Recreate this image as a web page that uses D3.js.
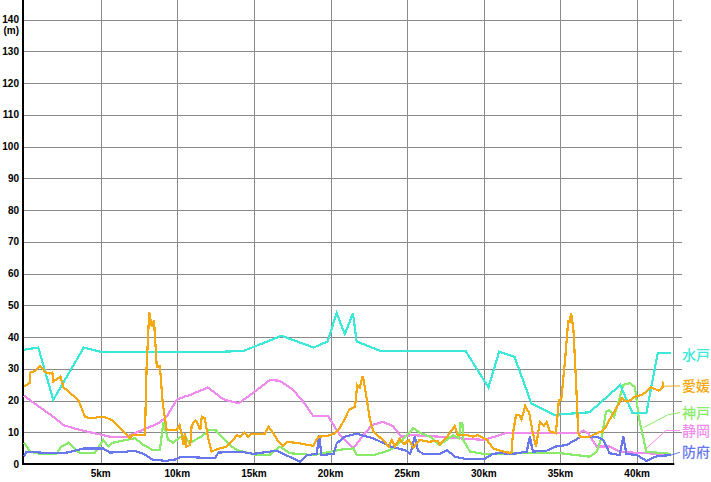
<!DOCTYPE html>
<html>
<head>
<meta charset="utf-8">
<script src="https://cdn.jsdelivr.net/npm/d3@7"></script>
<style>
  body { margin: 0; background: #fff; }
  svg { display: block; }
</style>
</head>
<body>
<div id="chart"></div>
<script>
// course names and colours
const courses = ["静岡", "神戸", "防府", "水戸", "愛媛"];
const colors = {"水戸": "#3ce9d8", "愛媛": "#f4a812", "神戸": "#8aeb6a", "静岡": "#ef8bed", "防府": "#6878ec"};

const yTicks = [0, 10, 20, 30, 40, 50, 60, 70, 80, 90, 100, 110, 120, 130, 140];
const xTicks = [5, 10, 15, 20, 25, 30, 35, 40];

// elevation profiles (km, m)
const kmMito   = [0, 0.93, 1.91, 3.9, 4.95, 13.0, 14.3, 16.8, 18.9, 19.8, 20.4, 20.93, 21.46, 21.7, 23.2, 28.8, 30.3, 31.0, 32.0, 33.1, 34.6, 36.9, 38.9, 39.7, 40.6, 41.35, 42.195];
const elevMito = [36, 36.7, 20.2, 36.7, 35.4, 35.4, 35.6, 40.4, 36.7, 38.6, 47.5, 40.9, 47.5, 38.6, 35.7, 35.7, 24.1, 35.4, 33.8, 19.1, 15.5, 16.3, 24.9, 16, 16, 35.1, 35.1];

const kmEhime   = [0, 0.38, 0.42, 0.72, 1.04, 1.37, 1.65, 1.85, 1.91, 2.39, 2.57, 3.54, 3.98, 4.3, 5.17, 5.72, 6.26, 6.91, 7.0, 7.89, 8.0, 8.17, 8.33, 8.48, 8.66, 8.87, 9.05, 9.31, 9.96, 10.15, 10.3, 10.4, 10.5, 10.6, 10.85, 10.94, 11.2, 11.37, 11.5, 11.6, 11.8, 12.0, 12.24, 12.46, 13.2, 13.65, 13.87, 14.1, 14.4, 14.6, 14.85, 15.7, 15.94, 16.26, 16.6, 16.9, 17.2, 18.0, 18.87, 19.2, 19.74, 20.3, 20.6, 20.9, 21.2, 21.6, 21.74, 21.9, 22.1, 22.3, 22.57, 22.8, 23.4, 23.8, 24.0, 24.2, 24.5, 24.8, 25.1, 25.4, 25.8, 26.4, 27.0, 27.1, 27.6, 28.1, 28.3, 28.9, 29.3, 29.6, 30.2, 30.6, 31.3, 31.8, 31.9, 32.1, 32.3, 32.45, 32.7, 32.96, 33.2, 33.4, 33.66, 33.9, 34.1, 34.3, 34.7, 34.9, 35.05, 35.3, 35.5, 35.6, 35.7, 35.85, 36.0, 36.16, 36.27, 36.9, 37.36, 37.7, 37.97, 38.2, 38.7, 39.0, 39.3, 39.6, 39.86, 40.3, 40.6, 40.9, 41.4, 41.65, 41.7];
const elevEhime = [24.4, 25.6, 28.8, 29.4, 30.9, 29.1, 28.5, 28.8, 26, 27.5, 24.2, 20.2, 14.9, 14.4, 14.9, 13.9, 11.3, 8.1, 9.0, 9.1, 30.7, 48, 43.3, 45.4, 30.7, 30.7, 19.1, 10.7, 10.7, 12.3, 9, 6, 9.7, 5.5, 6, 12.3, 13.7, 12.3, 10.7, 14.9, 14.4, 8.6, 3.9, 4.4, 5.5, 7.6, 9.1, 8.6, 9.9, 8.6, 9.5, 9.5, 11.8, 9.7, 7, 5.7, 7, 6.5, 5.7, 8.6, 8.8, 9.7, 11.3, 14, 17, 18.1, 24.9, 24, 27.8, 22.3, 13.9, 10.2, 7.6, 5.5, 7.6, 5.5, 7.9, 6.2, 7.6, 5.2, 7.6, 7, 7.3, 6.2, 8.6, 12, 9.1, 9.1, 8.6, 9.1, 7.6, 4.9, 3.9, 3.4, 9.7, 15.5, 15.5, 14, 18.3, 16, 9.7, 5.5, 13.3, 12, 13.3, 10.2, 9.7, 20.2, 20.2, 32.8, 44.9, 44.8, 47.5, 42, 27.5, 9.7, 8.6, 8.6, 9.7, 10.2, 11.8, 13.9, 18.1, 20.7, 19.7, 20.2, 21.2, 21.8, 22.8, 24.2, 23.1, 24, 26];

const kmKobe   = [0, 0.4, 1.04, 2.1, 2.45, 2.9, 3.2, 3.65, 4.6, 5.17, 5.5, 5.8, 6.7, 7.24, 7.8, 8.4, 8.87, 9.09, 9.4, 9.74, 10.2, 10.5, 10.8, 11.6, 12.1, 12.5, 13.4, 13.9, 15.2, 16.0, 16.7, 17.35, 18.9, 20.6, 21.5, 21.7, 22.8, 23.9, 24.7, 25.4, 25.9, 26.5, 27.1, 28.0, 28.4, 28.45, 28.6, 28.65, 29.1, 30.0, 33.2, 35.0, 36.9, 37.36, 37.7, 37.97, 38.2, 38.5, 39.1, 39.5, 39.86, 40.1, 40.6, 42.195];
const elevKobe = [6.7, 3.9, 3.2, 3.2, 5.5, 6.7, 5.2, 3.4, 3.4, 7.6, 5.5, 6.7, 7.6, 8.1, 6, 4.4, 4.4, 13.3, 7.6, 6.7, 8.6, 8.8, 6.5, 8.8, 10.7, 10.7, 6, 4.4, 2.8, 2.8, 5.5, 3.4, 2.8, 4.5, 4.9, 2.8, 2.8, 4.4, 7.6, 11.3, 9.7, 8.6, 6, 9.1, 8.1, 13, 13, 7.6, 3.9, 3.2, 3.4, 3.4, 2.3, 3.9, 8.6, 16.5, 17, 14.9, 24.9, 25.5, 24.2, 14.9, 3.9, 3.2];

const kmShizuoka   = [0, 0.83, 1.91, 2.56, 3.2, 4.1, 5.17, 5.6, 6.7, 7.24, 8.0, 8.76, 9.3, 9.96, 10.5, 10.8, 12.0, 13.0, 14.0, 15.2, 16.05, 16.7, 17.57, 18.3, 18.87, 19.85, 20.4, 20.7, 21.48, 21.9, 22.7, 23.44, 24.1, 24.6, 25.3, 27.1, 28.4, 30.0, 31.05, 31.4, 36.2, 36.5, 36.8, 37.36, 38.2, 38.9, 40.2, 42.195];
const elevShizuoka = [21.5, 18.6, 14.9, 12.3, 11.3, 10.2, 9.1, 8.6, 8.6, 9.7, 11.3, 12.8, 14.9, 20.2, 21.3, 21.7, 24.1, 20.4, 19.1, 23.3, 26.5, 26.2, 23.3, 19.1, 15.1, 15, 10.7, 8.6, 4.9, 7.6, 12.3, 13.3, 11.8, 8.6, 9.1, 8.6, 8.1, 7.6, 9.1, 9.7, 9.7, 10.5, 9.7, 5.5, 5.5, 3.9, 3.4, 3.2];

const kmHofu   = [0, 0.17, 1.7, 2.8, 3.87, 5.17, 5.6, 6.7, 7.2, 7.8, 8.4, 9.3, 9.96, 10.2, 12.46, 12.68, 14.1, 14.96, 16.5, 17.1, 18.0, 18.44, 19.1, 19.26, 19.4, 20.2, 20.4, 20.94, 21.7, 22.8, 23.9, 24.96, 25.2, 25.5, 25.7, 26.05, 27.1, 27.6, 28.1, 28.9, 30.0, 30.6, 31.0, 31.9, 32.8, 33.0, 33.2, 34.1, 34.7, 35.4, 36.27, 37.36, 37.8, 38.2, 38.85, 39.1, 39.3, 40.0, 40.6, 41.3, 42.195];
const elevHofu = [2.3, 3.9, 3.4, 3.6, 4.9, 4.9, 3.6, 3.9, 4.2, 3.2, 1.3, 1.0, 1.5, 2.3, 1.8, 3.6, 3.9, 3.2, 4.2, 2.8, 0.7, 2.8, 3.2, 9.1, 2.8, 3.2, 6.5, 8.6, 9.5, 8.1, 5.5, 4.2, 3.2, 8.6, 4.2, 3.2, 3.2, 4.4, 2.3, 1.5, 1.5, 3.2, 3.4, 3.2, 3.9, 8.6, 3.9, 4.2, 5.5, 6, 8.4, 8.6, 7.6, 3.4, 2.8, 8.6, 3.2, 2.8, 1.0, 2.5, 2.8];

// thin leader lines from the profiles to the name labels (km, m)
const leaderKm   = {"愛媛": [41.7], "神戸": [40.4, 42.0], "静岡": [40.5, 41.9], "防府": [42.195]};
const leaderElev = {"愛媛": [24.5], "神戸": [11.4, 15.5], "静岡": [4.5, 10.6], "防府": [2.8]};
const labelElev  = {"水戸": 34.5, "愛媛": 24.6, "神戸": 16.2, "静岡": 10.5, "防府": 3.7};

const series = {
  "水戸": [kmMito, elevMito],
  "愛媛": [kmEhime, elevEhime],
  "神戸": [kmKobe, elevKobe],
  "静岡": [kmShizuoka, elevShizuoka],
  "防府": [kmHofu, elevHofu]
};

const width = 711, height = 482;
const left = 24, right = 673.3, bottom = 464;

const x = d3.scaleLinear().domain([0, 42.36]).range([left, right]);
const y = d3.scaleLinear().domain([0, 146.2]).range([bottom, 0]);
const labelX = 682;
const tickFont = "bold 10px 'Liberation Sans', Arial, sans-serif";

const svg = d3.select("#chart").append("svg")
    .attr("width", width)
    .attr("height", height);

// horizontal grid
svg.append("g")
    .selectAll("line")
    .data(yTicks.slice(1))
    .enter()
    .append("line")
    .attr("x1", left)
    .attr("x2", labelX)
    .attr("y1", d => Math.round(y(d)) + 0.5)
    .attr("y2", d => Math.round(y(d)) + 0.5)
    .attr("stroke", "#8a8a8a")
    .attr("stroke-width", 1);

// vertical grid
svg.append("g")
    .selectAll("line")
    .data(xTicks.concat([x.domain()[1]]))
    .enter()
    .append("line")
    .attr("x1", d => Math.round(x(d)) + 0.5)
    .attr("x2", d => Math.round(x(d)) + 0.5)
    .attr("y1", 0)
    .attr("y2", bottom)
    .attr("stroke", "#8a8a8a")
    .attr("stroke-width", 1);

// y axis labels
svg.append("g")
    .selectAll("text")
    .data(yTicks)
    .enter()
    .append("text")
    .attr("x", 19)
    .attr("y", d => y(d))
    .attr("dy", "0.35em")
    .attr("text-anchor", "end")
    .style("font", tickFont)
    .text(d => d);

svg.append("text")
    .attr("x", 19)
    .attr("y", y(140) + 11)
    .attr("dy", "0.35em")
    .attr("text-anchor", "end")
    .style("font", tickFont)
    .text("(m)");

// x axis labels
svg.append("g")
    .selectAll("text")
    .data(xTicks)
    .enter()
    .append("text")
    .attr("x", d => x(d))
    .attr("y", 473)
    .attr("dy", "0.35em")
    .attr("text-anchor", "middle")
    .style("font", tickFont)
    .text(d => d + "km");

// axes
svg.append("line")
    .attr("x1", left - 1).attr("x2", left - 1)
    .attr("y1", 0).attr("y2", bottom + 1)
    .attr("stroke", "#000").attr("stroke-width", 2);
svg.append("line")
    .attr("x1", left - 2).attr("x2", right + 1)
    .attr("y1", bottom).attr("y2", bottom)
    .attr("stroke", "#000").attr("stroke-width", 2);

const line = d3.line()
    .x(d => x(d[0]))
    .y(d => y(d[1]));

// leader lines
Object.keys(leaderKm).forEach(name => {
    const pts = leaderKm[name].map((k, i) => [x(k), y(leaderElev[name][i])]);
    pts.push([labelX - 2, y(labelElev[name])]);
    svg.append("path")
        .attr("d", d3.line()(pts))
        .attr("fill", "none")
        .attr("stroke", colors[name])
        .attr("stroke-width", 1);
});

// profiles
courses.forEach(name => {
    const [km, elev] = series[name];
    svg.append("path")
        .datum(km.map((k, i) => [k, elev[i]]))
        .attr("d", line)
        .attr("fill", "none")
        .attr("stroke", colors[name])
        .attr("stroke-width", 2.2)
        .attr("shape-rendering", "crispEdges");
});

// name labels
svg.append("g")
    .selectAll("text")
    .data(["水戸", "愛媛", "神戸", "静岡", "防府"])
    .enter()
    .append("text")
    .attr("x", labelX)
    .attr("y", d => y(labelElev[d]))
    .attr("dy", "0.36em")
    .style("font", "500 14px 'Noto Sans CJK JP', sans-serif")
    .attr("fill", d => colors[d])
    .text(d => d);
</script>
</body>
</html>
